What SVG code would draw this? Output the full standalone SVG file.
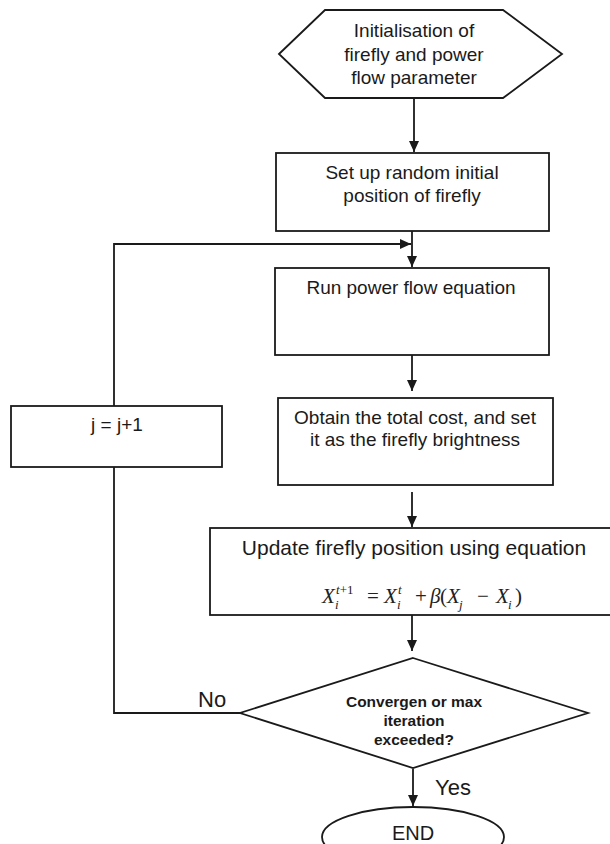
<svg xmlns="http://www.w3.org/2000/svg" width="610" height="844" viewBox="0 0 610 844">
<style>
.shape{fill:#fff;stroke:#1a1a1a;stroke-width:1.8}
.line{fill:none;stroke:#1a1a1a;stroke-width:1.8}
.t{font-family:"Liberation Sans",Arial,sans-serif;font-size:19px;fill:#1a1a1a;text-anchor:middle}
.b{font-family:"Liberation Sans",Arial,sans-serif;font-size:15.5px;font-weight:bold;fill:#1a1a1a;text-anchor:middle}
.lab{font-family:"Liberation Sans",Arial,sans-serif;font-size:22px;fill:#1a1a1a}
.eq{font-family:"Liberation Serif","DejaVu Serif",serif;font-size:21px;font-style:italic;fill:#222}
.eqs{font-family:"Liberation Serif","DejaVu Serif",serif;font-size:13px;font-style:italic;fill:#222}
.eqn{font-family:"Liberation Serif","DejaVu Serif",serif;font-size:21px;fill:#222}
</style>
<defs>
<marker id="ah" markerUnits="userSpaceOnUse" markerWidth="12" markerHeight="10" refX="11" refY="5" orient="auto">
<path d="M0,0 L11,5 L0,10 z" fill="#1a1a1a"/>
</marker>
</defs>
<rect width="610" height="844" fill="#fff"/>
<g id="connectors">
<line class="line" x1="414" y1="98" x2="414" y2="152" marker-end="url(#ah)"/>
<line class="line" x1="412" y1="231" x2="412" y2="267" marker-end="url(#ah)"/>
<polyline class="line" points="114,406 114,244 411,244" marker-end="url(#ah)"/>
<line class="line" x1="412" y1="355" x2="412" y2="391" marker-end="url(#ah)"/>
<line class="line" x1="412" y1="492" x2="412" y2="527" marker-end="url(#ah)"/>
<line class="line" x1="412" y1="615" x2="412" y2="651" marker-end="url(#ah)"/>
<polyline class="line" points="240,713 114,713 114,467"/>
<line class="line" x1="413" y1="769" x2="413" y2="806" marker-end="url(#ah)"/>
<text class="lab" x="198" y="707">No</text>
<text class="lab" x="435" y="795">Yes</text>
</g>
<g id="init">
<polygon class="shape" points="279,54 325,10 503,10 562,54 503,98 325,98"/>
<text class="t" x="414" y="37">Initialisation of</text>
<text class="t" x="414" y="61">firefly and power</text>
<text class="t" x="414" y="84">flow parameter</text>
</g>
<g id="setup">
<rect class="shape" x="276" y="153" width="273" height="78"/>
<text class="t" x="412" y="179">Set up random initial</text>
<text class="t" x="412" y="202">position of firefly</text>
</g>
<g id="powerflow">
<rect class="shape" x="275" y="268" width="274" height="87"/>
<text class="t" x="411" y="294">Run power flow equation</text>
</g>
<g id="cost">
<rect class="shape" x="278" y="398" width="275" height="87"/>
<text class="t" x="415" y="424">Obtain the total cost, and set</text>
<text class="t" x="415" y="446">it as the firefly brightness</text>
</g>
<g id="update">
<rect class="shape" x="210" y="528" width="410" height="87"/>
<text class="t" x="414" y="555" style="font-size:21px">Update firefly position using equation</text>
<text class="eq" x="322" y="603">X</text>
<text class="eqs" x="336" y="594">t<tspan font-style="normal">+1</tspan></text>
<text class="eqs" x="335" y="609">i</text>
<text class="eqn" x="367" y="603">=</text>
<text class="eq" x="384" y="603">X</text>
<text class="eqs" x="398" y="594">t</text>
<text class="eqs" x="397" y="609">i</text>
<text class="eqn" x="415" y="603">+</text>
<text class="eq" x="430" y="603">β</text>
<text class="eqn" x="440" y="603">(</text>
<text class="eq" x="447" y="603">X</text>
<text class="eqs" x="459" y="609">j</text>
<text class="eqn" x="477" y="603">−</text>
<text class="eq" x="496" y="603">X</text>
<text class="eqs" x="508" y="609">i</text>
<text class="eqn" x="515" y="603">)</text>
</g>
<g id="decision">
<polygon class="shape" points="413,658 588,713 413,768 240,713"/>
<text class="b" x="414" y="707">Convergen or max</text>
<text class="b" x="414" y="726">iteration</text>
<text class="b" x="414" y="745">exceeded?</text>
</g>
<g id="counter">
<rect class="shape" x="11" y="406" width="211" height="61"/>
<text class="t" x="117" y="431">j = j+1</text>
</g>
<g id="end">
<ellipse class="shape" cx="413" cy="837" rx="91" ry="30"/>
<text class="t" x="413" y="840" style="font-size:20px">END</text>
</g>
</svg>
